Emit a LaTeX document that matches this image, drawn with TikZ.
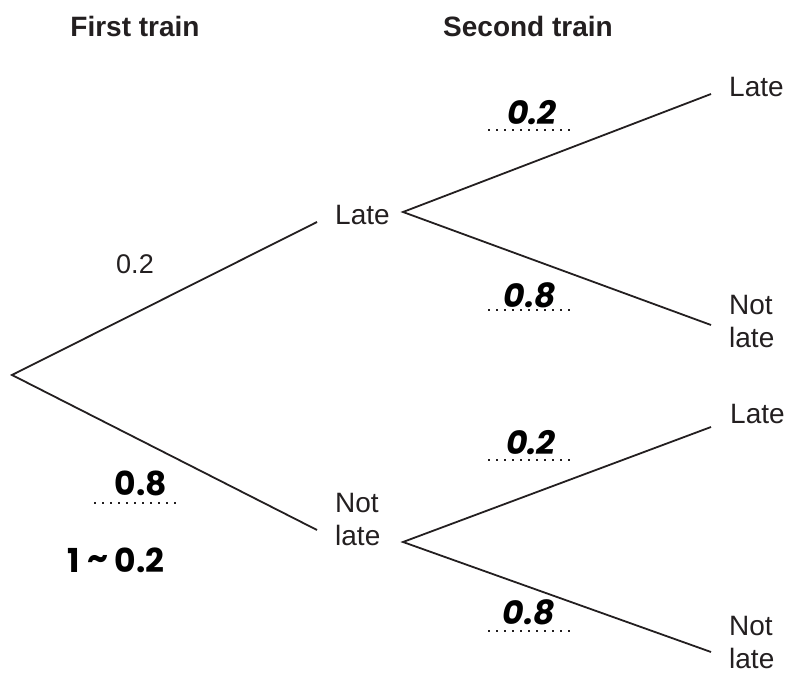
\documentclass[tikz,border=0pt]{standalone}
\usepackage{fontspec}
\setmainfont{Liberation Sans}
\newfontfamily\handfont{Poppins}
\definecolor{ink}{HTML}{231F20}
\begin{document}
\begin{tikzpicture}[x=1pt,y=-1pt,
  branch/.style={line width=1.8pt, draw=ink},
  lbl/.style={inner sep=0pt, anchor=base west, text=ink, font=\fontsize{28}{33}\selectfont, align=left},
  head/.style={inner sep=0pt, anchor=base, text=ink, font=\fontsize{28}{33}\selectfont\bfseries},
  prob/.style={inner sep=0pt, anchor=base, text=ink, font=\fontsize{27}{30}\selectfont},
  hand/.style={inner sep=0pt, anchor=base, text=black, font=\handfont\fontsize{33}{36}\selectfont\bfseries},
  handit/.style={hand, font=\handfont\fontsize{33}{36}\selectfont\bfseries\itshape},
  dots/.style={line width=1.7pt, draw=ink, dash pattern=on 1.7pt off 6.3pt}
]
\useasboundingbox (0,0) rectangle (788,674);

% headers
\node[head] (h1) at (135,37) {First train};
\node[head] (h2) at (528,37) {Second train};

% tree points
\coordinate (root) at (12,375);
\coordinate (e1) at (317,222);
\coordinate (e2) at (317,530);
\coordinate (f1) at (403,212);
\coordinate (f2) at (403,542);
\coordinate (g1) at (711,94);
\coordinate (g2) at (711,325);
\coordinate (g3) at (711,427);
\coordinate (g4) at (711,652);

% labels (multi-line nodes: base = last line)
\node[lbl] (L1) at (335,225) {Late};
\node[lbl] (N1) at (335,545) {Not\\late};
\node[lbl] (LL) at (729,97) {Late};
\node[lbl] (LN) at (729,347) {Not\\late};
\node[lbl] (NL) at (730,423) {Late};
\node[lbl] (NN) at (729,668) {Not\\late};

% branches
\draw[branch] (e1) -- (root) -- (e2);
\draw[branch] (g1) -- (f1) -- (g2);
\draw[branch] (g3) -- (f2) -- (g4);

% probabilities
\node[prob] (p1) at (135,273) {0.2};

\coordinate (d1a) at (94,503);  \coordinate (d1b) at (178,503);
\draw[dots] (d1a) -- (d1b);
\node[hand] (a1) at (141,495) {0.8};
\node[hand] (a2) at (116,572) {1\hspace{8pt}\raisebox{3pt}{\textasciitilde}\hspace{6pt}0.2};

\coordinate (d2a) at (488,130); \coordinate (d2b) at (572,130);
\draw[dots] (d2a) -- (d2b);
\node[handit] (a3) at (532,125) {0.2};

\coordinate (d3a) at (488,310); \coordinate (d3b) at (572,310);
\draw[dots] (d3a) -- (d3b);
\node[handit] (a4) at (530,307) {0.8};

\coordinate (d4a) at (488,460); \coordinate (d4b) at (572,460);
\draw[dots] (d4a) -- (d4b);
\node[handit] (a5) at (531,454) {0.2};

\coordinate (d5a) at (488,631); \coordinate (d5b) at (572,631);
\draw[dots] (d5a) -- (d5b);
\node[handit] (a6) at (529,624) {0.8};
\end{tikzpicture}
\end{document}
